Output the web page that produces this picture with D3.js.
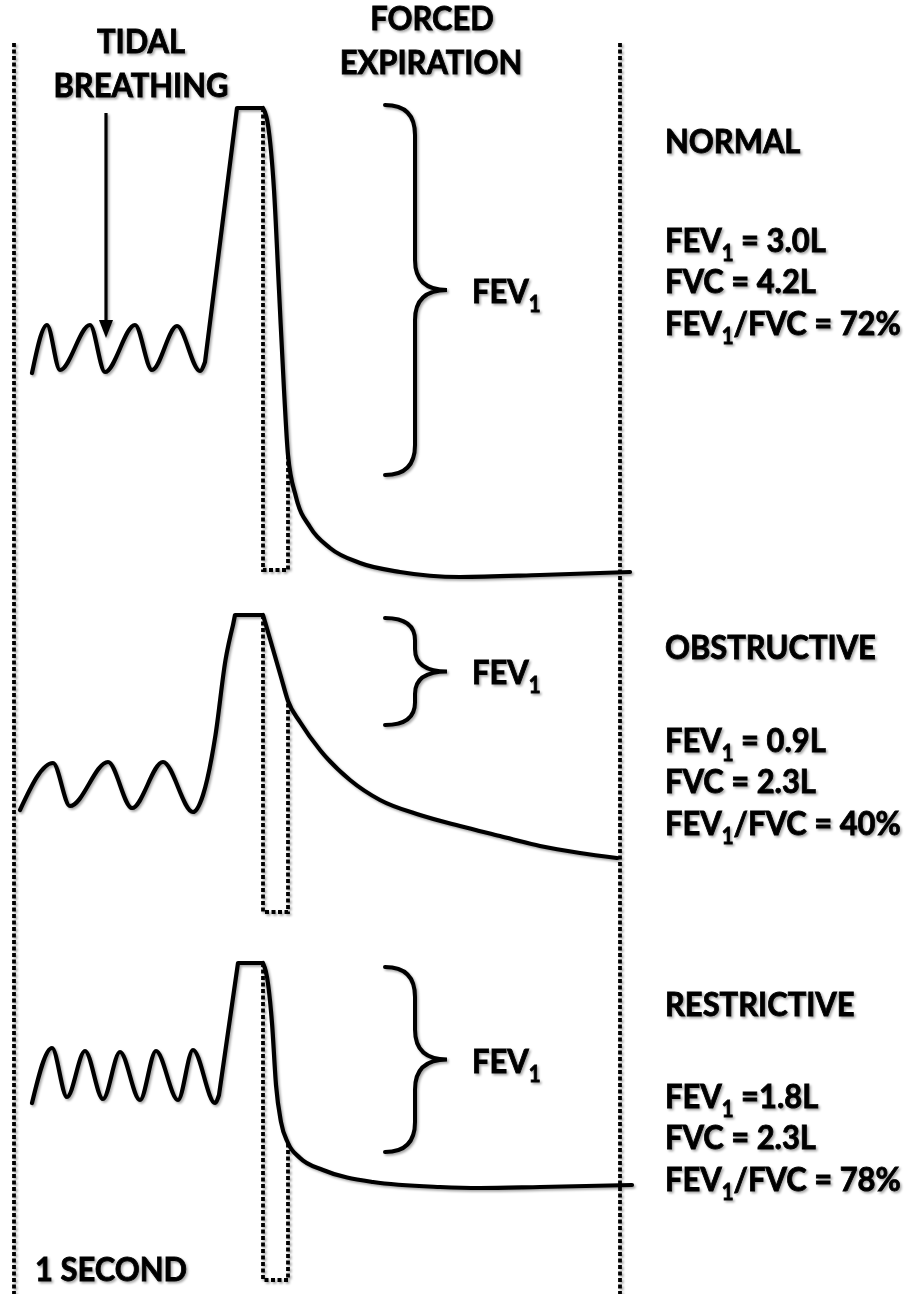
<!DOCTYPE html>
<html><head><meta charset="utf-8">
<script src="https://cdn.jsdelivr.net/npm/d3@7"></script>
<style>body{margin:0;background:#fff}svg{display:block}</style>
</head><body>
<svg id="c" width="913" height="1294"></svg>
<script>
// ---------- DATA (time t in seconds from start of forced expiration, e = litres exhaled below peak) ----------
const categories = ["NORMAL", "OBSTRUCTIVE", "RESTRICTIVE"];
const fev1Labels = ["= 3.0L", "= 0.9L", "=1.8L"];
const fvcLabels = ["= 4.2L", "= 2.3L", "= 2.3L"];
const ratioLabels = ["= 72%", "= 40%", "= 78%"];

const normalTidal = [[-9.24,2.65],[-8.64,2.17],[-8.12,2.62],[-6.92,2.17],[-6.32,2.64],[-5.12,2.17],[-4.44,2.62],[-3.44,2.18],[-2.52,2.63],[-2.32,2.54]];
const normalRise = [[-2.32,2.54],[-1.04,0],[0,0]];
const normalForced = [[0,0],[0.2,0.17],[0.44,0.82],[0.64,1.82],[0.84,2.82],[1.0,3.47],[1.32,3.89],[1.88,4.19],[2.68,4.40],[3.88,4.55],[5.48,4.64],[7.88,4.69],[11.08,4.67],[14.68,4.64]];

const obstrTidal = [[-9.72,1.95],[-8.4,1.48],[-7.72,1.91],[-6.2,1.47],[-5.24,1.93],[-4.0,1.47],[-2.8,1.97],[-2.4,1.80],[-1.9,1.20],[-1.5,0.45],[-1.2,0.1]];
const obstrRise = [[-1.2,0.1],[-1.12,0],[0,0]];
const obstrForced = [[0,0],[0.28,0.24],[0.72,0.62],[1.0,0.86],[1.48,1.07],[2.28,1.35],[3.48,1.65],[4.68,1.85],[6.28,2.0],[7.88,2.11],[9.48,2.21],[11.08,2.31],[12.68,2.38],[14.16,2.43]];

const restrTidal = [[-9.24,1.40],[-8.44,0.85],[-7.84,1.34],[-7.12,0.88],[-6.4,1.36],[-5.72,0.89],[-4.92,1.37],[-4.28,0.88],[-3.4,1.37],[-2.8,0.87],[-1.92,1.40],[-1.76,1.32]];
const restrRise = [[-1.76,1.32],[-1.0,0],[0,0]];
const restrForced = [[0,0],[0.16,0.14],[0.36,0.60],[0.52,1.22],[0.72,1.59],[1.0,1.80],[1.48,1.95],[2.4,2.07],[4.4,2.19],[7.08,2.24],[8.68,2.25],[11.08,2.24],[14.76,2.22]];

// FEV1 brace extents (litres) and one-second box depth (litres)
const braceExtents = [[-0.03,3.67],[0.03,1.10],[0.04,1.89]];
const boxDepth = [4.62, 2.97, 3.17];
// tidal-breathing arrow (t, e top, e tip) in normal panel
const arrowSpec = [-6.28, 0.05, 2.30];
// full-width dotted guides (t)
const guideTimes = [-9.96, 14.28];

// ---------- LAYOUT ----------
const W = 913, H = 1294;
const panelTops = [108, 615, 963];
const pxPerL = 100;
const x = d3.scaleLinear().domain([0, 1]).range([263, 288]);
const svg = d3.select("#c");
const defs = svg.append("defs");
const filt = defs.append("filter").attr("id", "sh").attr("filterUnits", "userSpaceOnUse")
  .attr("x", 0).attr("y", 0).attr("width", W).attr("height", H);
filt.append("feDropShadow").attr("dx", 1.6).attr("dy", 1.8).attr("stdDeviation", 1.3)
  .attr("flood-color", "#000").attr("flood-opacity", 0.35);

const g = svg.append("g").attr("filter", "url(#sh)");
const dash = "4,2.5";
const dotW = 3.8;

// long guides
guideTimes.forEach(t => {
  g.append("line").attr("x1", x(t)).attr("x2", x(t)).attr("y1", 43).attr("y2", H)
    .attr("stroke", "#000").attr("stroke-width", dotW).attr("stroke-dasharray", dash);
});

const panels = [
  {tidal: normalTidal, rise: normalRise, forced: normalForced},
  {tidal: obstrTidal, rise: obstrRise, forced: obstrForced},
  {tidal: restrTidal, rise: restrRise, forced: restrForced}
];

panels.forEach((p, i) => {
  const y = d3.scaleLinear().domain([0, 1]).range([panelTops[i], panelTops[i] + pxPerL]);
  const lineM = d3.line().x(d => x(d[0])).y(d => y(d[1])).curve(d3.curveMonotoneX);
  const lineL = d3.line().x(d => x(d[0])).y(d => y(d[1]));

  // one-second dotted box
  const at1 = p.forced.find(d => d[0] === 1.0);
  const boxPath = d3.path();
  boxPath.moveTo(x(0), y(0));
  boxPath.lineTo(x(0), y(boxDepth[i]));
  boxPath.lineTo(x(1), y(boxDepth[i]));
  boxPath.lineTo(x(1), y(at1[1]));
  g.append("path").attr("d", boxPath.toString()).attr("fill", "none")
    .attr("stroke", "#000").attr("stroke-width", dotW).attr("stroke-dasharray", dash);

  // spirogram
  g.append("path").attr("d", lineM(p.tidal) + lineL(p.rise) + lineM(p.forced))
    .attr("fill", "none").attr("stroke", "#000").attr("stroke-width", 4.2)
    .attr("stroke-linejoin", "round").attr("stroke-linecap", "round");

  // brace
  const [b0, b1] = braceExtents[i];
  const top = y(b0), bot = y(b1), tip = (top + bot) / 2;
  const xe = x(4.88), xs = x(6.08), xt = x(7.36);
  const r = Math.min(30, (tip - top) * 0.42);
  const bp = d3.path();
  bp.moveTo(xe, top);
  bp.quadraticCurveTo(xs, top, xs, top + r);
  bp.lineTo(xs, tip - r);
  bp.quadraticCurveTo(xs, tip, xt, tip);
  bp.quadraticCurveTo(xs, tip, xs, tip + r);
  bp.lineTo(xs, bot - r);
  bp.quadraticCurveTo(xs, bot, xe, bot);
  g.append("path").attr("d", bp.toString()).attr("fill", "none")
    .attr("stroke", "#000").attr("stroke-width", 4).attr("stroke-linecap", "round");

  if (i === 0) {
    const ax = x(arrowSpec[0]), ay0 = y(arrowSpec[1]), ay1 = y(arrowSpec[2]);
    g.append("line").attr("x1", ax).attr("x2", ax).attr("y1", ay0).attr("y2", ay1 - 12)
      .attr("stroke", "#000").attr("stroke-width", 3.2);
    g.append("path").attr("d", `M${ax - 7},${ay1 - 18}L${ax + 7},${ay1 - 18}L${ax},${ay1}Z`).attr("fill", "#000");
  }
});

// ---------- TEXT ----------
const FONT = "Lato, 'Open Sans', sans-serif";
// calibrate one font size so that the longest label matches the reference width
const probe = svg.append("text").attr("font-family", FONT).attr("font-weight", 700)
  .attr("font-size", 30).text("FEV1/FVC = 72%");
const probeW = probe.node().getComputedTextLength();
probe.remove();
const FS = Math.min(35, 30 * 242 / probeW);
const SUB = FS * 0.66;
const SUBDY = FS * 0.26;

function label(px, py, parts, anchor) {
  const t = g.append("text").attr("font-family", FONT).attr("font-weight", 700)
    .attr("font-size", FS).attr("fill", "#000").attr("stroke", "#000").attr("stroke-width", 0.8)
    .attr("x", px).attr("y", py).attr("text-anchor", anchor || "start")
    .attr("transform", `translate(0,${py}) scale(1,1.07) translate(0,${-py})`);
  let sub = false;
  parts.forEach(pt => {
    const ts = t.append("tspan").text(pt[0]);
    if (pt[1]) { ts.attr("font-size", SUB).attr("dy", SUBDY); sub = true; }
    else if (sub) { ts.attr("dy", -SUBDY); sub = false; }
  });
}

label(141, 53, [["TIDAL"]], "middle");
label(141, 97, [["BREATHING"]], "middle");
label(432, 30, [["FORCED"]], "middle");
label(431, 74, [["EXPIRATION"]], "middle");

const rightX = 665;
const titleBase = [153, 659, 1016];
const firstBase = [252, 752, 1108];
const lineGap = 41;
const braceLabelBase = [303, 684, 1073];
categories.forEach((c, i) => {
  label(rightX, titleBase[i], [[c]]);
  label(rightX, firstBase[i], [["FEV"], ["1", true], [" " + fev1Labels[i]]]);
  label(rightX, firstBase[i] + lineGap, [["FVC " + fvcLabels[i]]]);
  label(rightX, firstBase[i] + 2 * lineGap + 1, [["FEV"], ["1", true], ["/FVC " + ratioLabels[i]]]);
  label(472, braceLabelBase[i], [["FEV"], ["1", true]]);
});
label(35, 1281, [["1 SECOND"]]);
</script>
</body></html>
